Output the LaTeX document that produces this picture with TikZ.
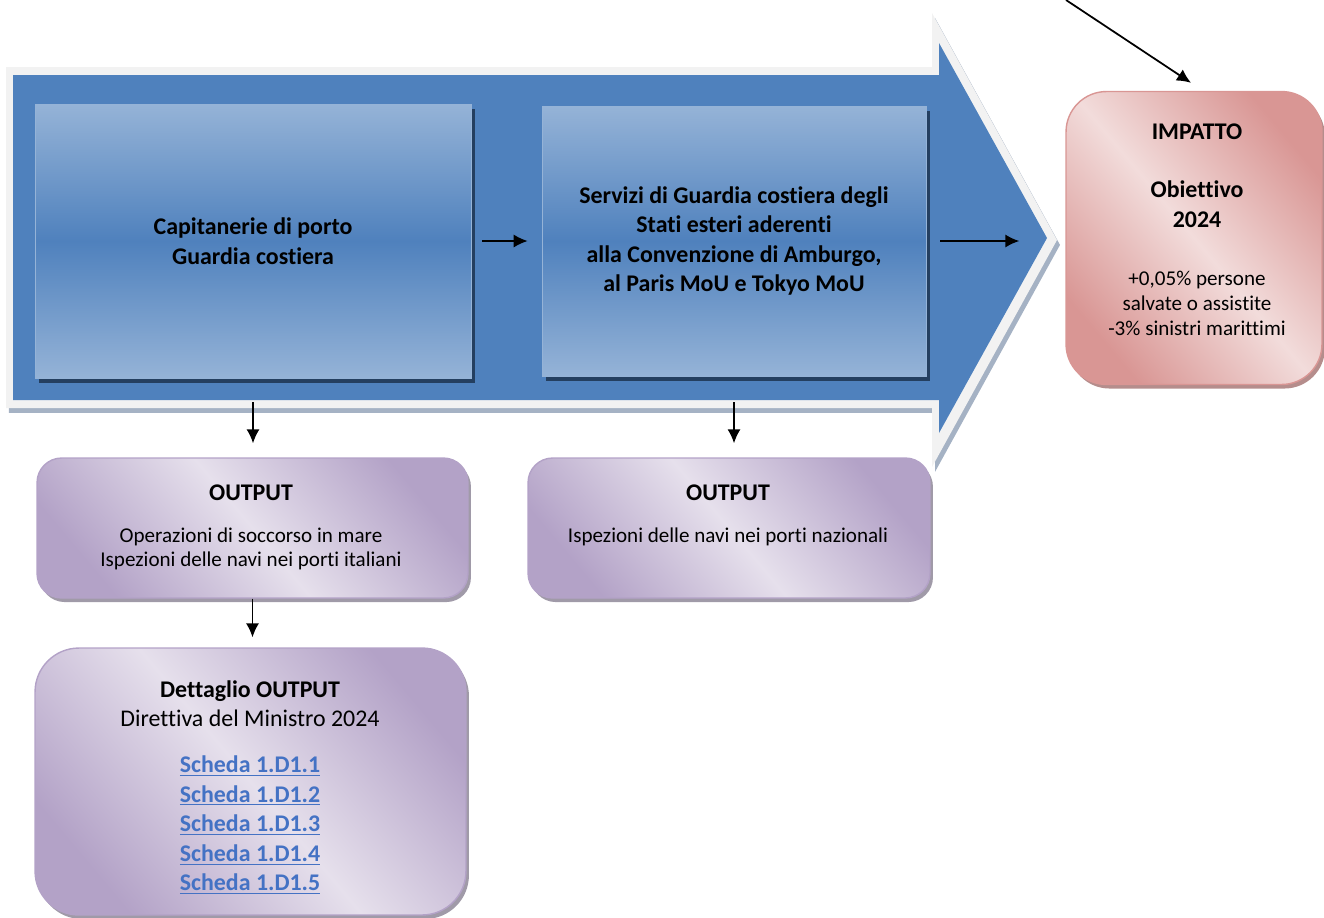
\documentclass[tikz,border=0pt]{standalone}
\usepackage{fontspec}
\setmainfont{Carlito}[Ligatures=CommonOff]
\usetikzlibrary{arrows.meta,shadows}

\definecolor{flowblue}{HTML}{4F81BD}
\definecolor{paleblue}{HTML}{95B3D7}
\definecolor{navyshade}{HTML}{243F60}
\definecolor{rimgray}{HTML}{F2F2F2}
\definecolor{rimshade}{HTML}{A5B2C4}
\definecolor{pinklight}{HTML}{F2DCDB}
\definecolor{pinkdark}{HTML}{D99694}
\definecolor{lilaclight}{HTML}{E6E0EC}
\definecolor{lilacdark}{HTML}{B3A2C7}
\definecolor{boxshade}{HTML}{A09AA8}
\definecolor{linkblue}{HTML}{4472C4}

\newcommand{\hdsz}{\fontsize{13.6pt}{16.8pt}\selectfont}
\newcommand{\txtsz}{\fontsize{12pt}{14pt}\selectfont}
\newcommand{\scheda}[1]{\bfseries\textcolor{linkblue}{\underline{Scheda #1}}}

\begin{document}
\begin{tikzpicture}[x=0.02cm, y=-0.02cm, >={Latex[length=8pt,width=7.5pt]},
    unitbox/.style={rectangle, top color=paleblue, bottom color=paleblue, middle color=flowblue, draw=paleblue, align=center, font=\hdsz\bfseries, drop shadow={shadow xshift=2.3pt, shadow yshift=-3pt, fill=navyshade, opacity=1}},
    outbox/.style={rectangle, rounded corners=14pt, draw=lilacdark, line width=0.8pt, top color=lilacdark, bottom color=lilacdark, middle color=lilaclight, shading angle=-50, drop shadow={shadow xshift=1.7pt, shadow yshift=-2.3pt, fill=boxshade, opacity=1}},
    impactbox/.style={rectangle, rounded corners=23pt, draw=pinkdark, line width=0.8pt, top color=pinkdark, bottom color=pinkdark, middle color=pinklight, shading angle=-50, drop shadow={shadow xshift=1.7pt, shadow yshift=-2.3pt, fill=pinkdark!60!gray, opacity=1}},
    txt/.style={align=center, inner sep=0pt, font=\txtsz}]
    \useasboundingbox (0,0) rectangle (1324,917);
    % big arrow
    \fill[rimgray, drop shadow={shadow xshift=1.7pt, shadow yshift=-2.8pt, fill=rimshade, opacity=1}] (6,67) -- (932,67) -- (932,13) -- (1057,240) -- (932,467) -- (932,408) -- (6,408) -- cycle;
    \fill[flowblue] (13,75) -- (939,75) -- (939,43) -- (1047,238) -- (939,433) -- (939,400) -- (13,400) -- cycle;
    % Nodes
    \node[unitbox, minimum width=8.72cm, minimum height=5.48cm] (cap) at (253,241) {Capitanerie di porto\\Guardia costiera};
    \node[unitbox, minimum width=7.68cm, minimum height=5.4cm] (serv) at (734,241) {Servizi di Guardia costiera degli\\Stati esteri aderenti\\alla Convenzione di Amburgo,\\al Paris MoU e Tokyo MoU};
    \node[impactbox, minimum width=5.12cm, minimum height=5.86cm] (impact) at (1194,238) {};
    \node[txt, anchor=north, font=\fontsize{12pt}{14.5pt}\selectfont] (impact txt) at (1197,123) {\hdsz\bfseries IMPATTO\\[19pt] \hdsz\bfseries Obiettivo\\[2.6pt] \hdsz\bfseries 2024\\[18pt] +0,05\% persone\\salvate o assistite\\-3\% sinistri marittimi};
    \node[outbox, minimum width=8.62cm, minimum height=2.8cm] (outA) at (252.5,528) {};
    \node[txt, anchor=north] (outA txt) at (251,484) {\hdsz\bfseries OUTPUT\\[10pt] Operazioni di soccorso in mare\\Ispezioni delle navi nei porti italiani};
    \node[outbox, minimum width=8.04cm, minimum height=2.8cm] (outB) at (729,528) {};
    \node[txt, anchor=north] (outB txt) at (728,484) {\hdsz\bfseries OUTPUT\\[10pt] Ispezioni delle navi nei porti nazionali};
    \node[outbox, rounded corners=25pt, minimum width=8.62cm, minimum height=5.34cm] (det) at (250.5,781.5) {};
    \node[txt, anchor=north, font=\hdsz] (det txt) at (250,680) {\bfseries Dettaglio OUTPUT\\Direttiva del Ministro 2024\\[9.4pt] \scheda{1.D1.1}\\\scheda{1.D1.2}\\\scheda{1.D1.3}\\\scheda{1.D1.4}\\\scheda{1.D1.5}};
    \coordinate (goal) at (1066,0);
    % Arrows
    \draw[->, line width=1pt, shorten <=0.22cm, shorten >=0.28cm] (cap) -- (serv);
    \draw[->, line width=1pt, shorten <=0.28cm, shorten >=0.92cm] (serv.east) -- (serv.east -| impact.west);
    \draw[->, line width=1pt] (goal) -- ([shift={(-3,-8)}]impact.north);
    \draw[->, line width=1pt, shorten <=0.48cm, shorten >=0.28cm] (cap.south) -- (cap.south |- outA.north);
    \draw[->, line width=1pt, shorten <=0.52cm, shorten >=0.28cm] (serv.south) -- (serv.south |- outB.north);
    \draw[->, line width=1pt, shorten >=0.2cm] (outA.south) -- (outA.south |- det.north);
\end{tikzpicture}
\end{document}
